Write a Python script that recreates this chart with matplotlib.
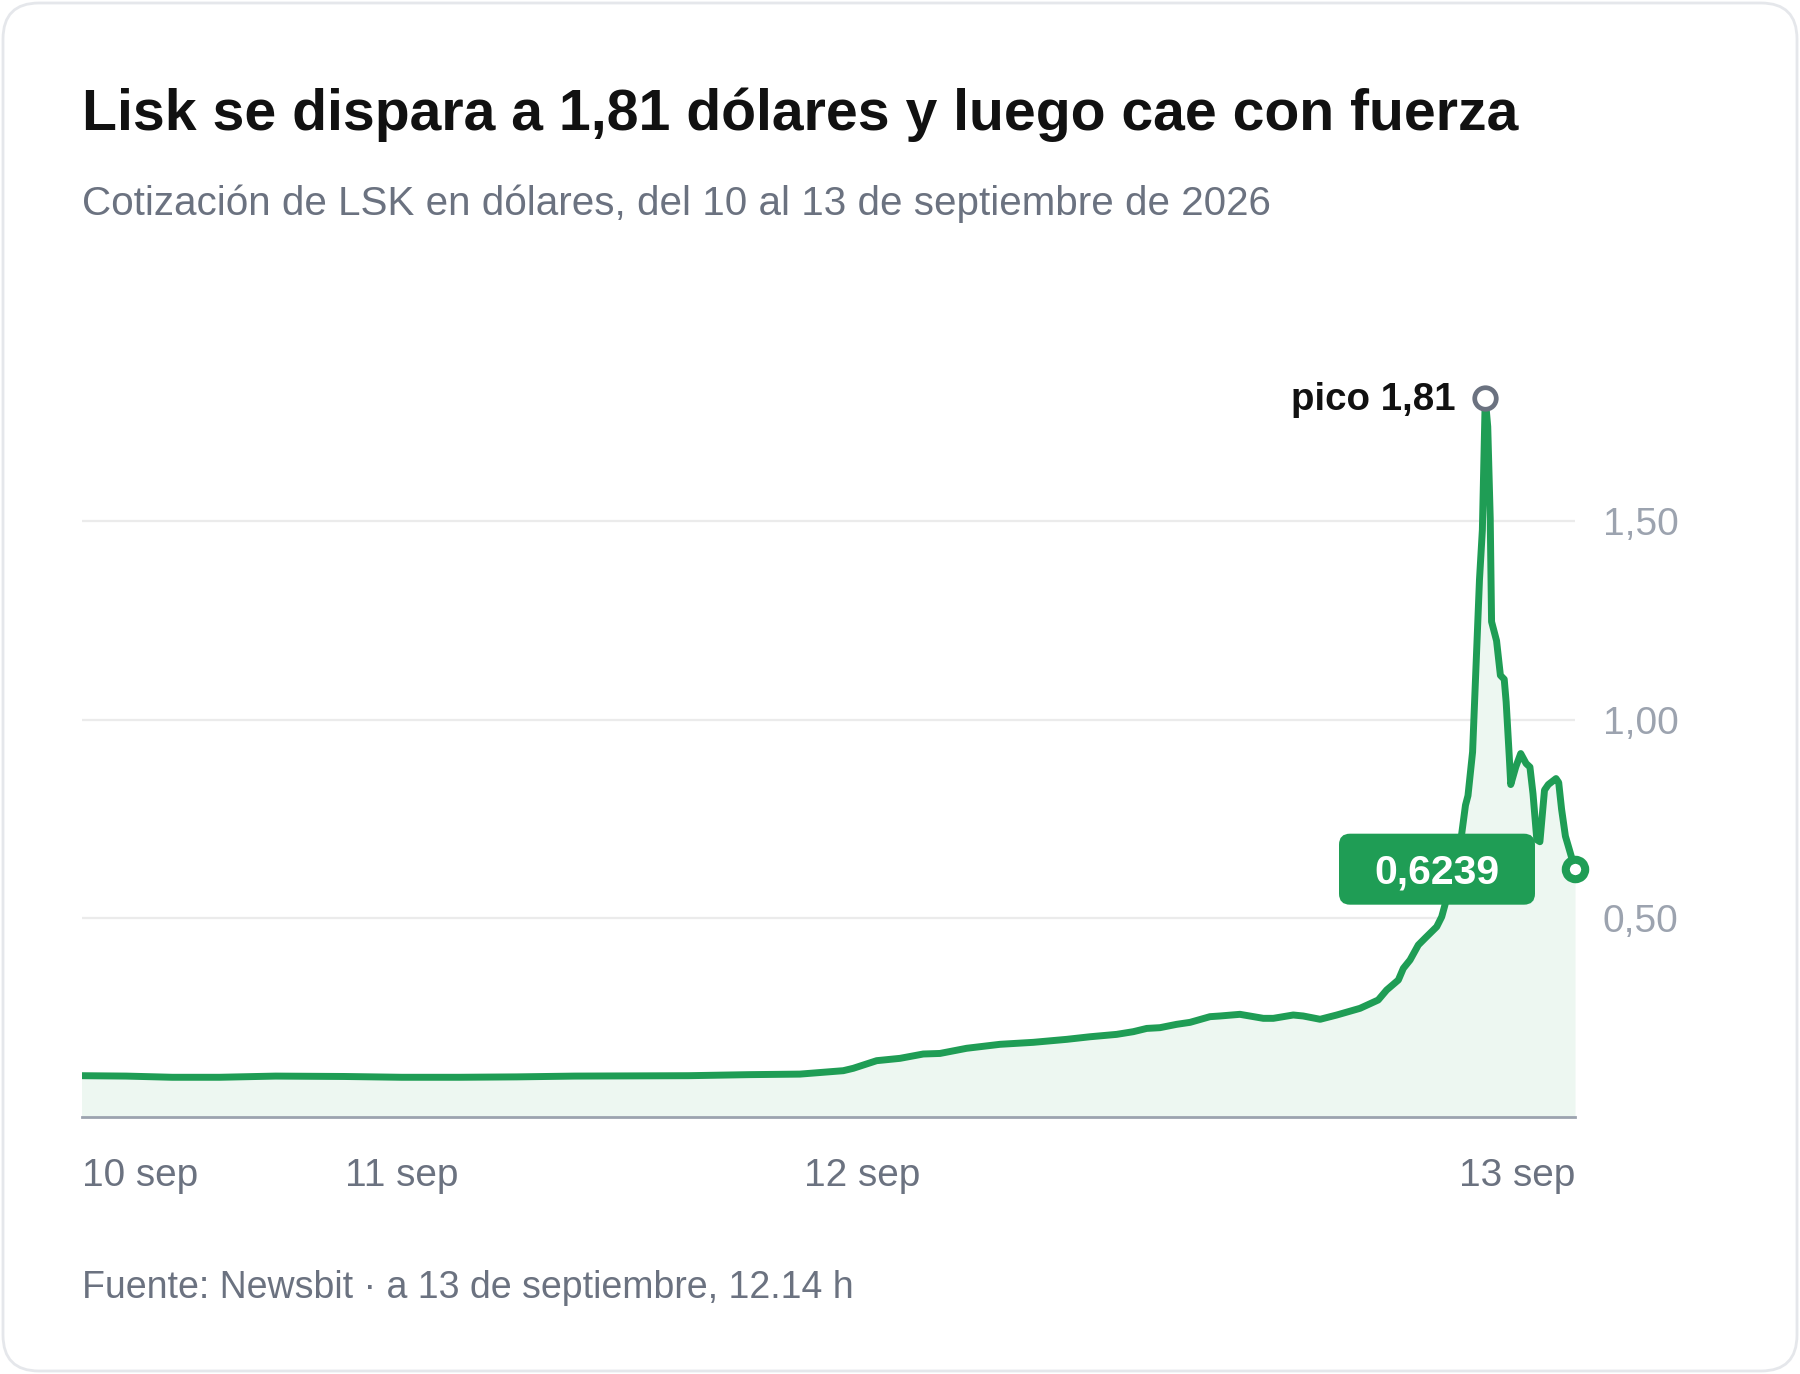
import matplotlib.pyplot as plt
from matplotlib.patches import FancyBboxPatch
from matplotlib.transforms import IdentityTransform

plt.rcParams['font.family'] = ['Liberation Sans', 'DejaVu Sans']

W, H = 1800, 1374
GREEN = '#1f9d55'
GREY_TXT = '#6b7280'

# hours counted from 10 sep 00:00, LSK price in USD
hours = [7.30, 9.63, 12.03, 14.5, 17.42, 21.0, 24.0, 26.99, 30.0, 33.0,
         38.96, 42.08, 44.76, 47.02, 47.54, 48.76, 49.98, 51.19, 52.06, 53.45,
         55.19, 56.93, 58.67, 59.88, 61.27, 62.14, 62.84, 63.53, 64.40, 65.10,
         66.14, 66.66, 67.70, 68.92, 69.44, 70.48, 71.00, 71.88, 72.75, 73.96,
         74.91, 75.35, 75.96, 76.22, 76.57, 77.00, 77.35, 77.96, 78.22, 78.39,
         78.77, 79.26, 79.46, 79.59, 79.83, 79.95, 80.03, 80.19, 80.34, 80.49,
         80.62, 80.75, 80.82, 81.08, 81.28, 81.48, 81.58, 81.74, 81.82, 82.08,
         82.34, 82.62, 82.82, 82.98, 83.18, 83.34, 83.58, 83.78, 84.18, 84.32,
         84.47, 84.67, 84.87, 85.17]
price = [0.104, 0.103, 0.100, 0.100, 0.103, 0.102, 0.100, 0.100, 0.101, 0.103,
         0.104, 0.1066, 0.108, 0.1166, 0.1226, 0.1418, 0.1477, 0.1586, 0.160, 0.173,
         0.183, 0.188, 0.1955, 0.202, 0.208, 0.2148, 0.223, 0.2249, 0.2333, 0.2383,
         0.2526, 0.2543, 0.2585, 0.2484, 0.2484, 0.2568, 0.2543, 0.246, 0.2568, 0.2736,
         0.2946, 0.3197, 0.3449, 0.3743, 0.3953, 0.433, 0.450, 0.479, 0.504, 0.534,
         0.616, 0.712, 0.785, 0.809, 0.919, 1.064, 1.160, 1.353, 1.478, 1.81,
         1.738, 1.507, 1.247, 1.199, 1.112, 1.102, 1.045, 0.910, 0.837, 0.881,
         0.915, 0.890, 0.881, 0.814, 0.698, 0.693, 0.823, 0.837, 0.852, 0.842,
         0.775, 0.707, 0.674, 0.6239]

x_ticks = [hours[0], 24, 48, hours[-1]]
x_labels = ['10 sep', '11 sep', '12 sep', '13 sep']
y_ticks = [0.5, 1.0, 1.5]
y_labels = ['0,50', '1,00', '1,50']

fig = plt.figure(figsize=(W / 100, H / 100), dpi=100)

# card background with rounded border
bg = fig.add_axes([0, 0, 1, 1], zorder=-1)
bg.set_xlim(0, W)
bg.set_ylim(0, H)
bg.axis('off')
bg.add_patch(FancyBboxPatch((3, 3), W - 6, H - 6, boxstyle='round,pad=0,rounding_size=36',
                            fc='white', ec='#e5e7eb', lw=2))

ax = fig.add_axes([81.5 / W, 257 / H, (1575 - 81.5) / W, 794.4 / H])
ax.set_xlim(hours[0], hours[-1])
ax.set_ylim(0, 2.0)
ax.patch.set_alpha(0)

ax.fill_between(hours, price, 0, color='#edf7f1', lw=0, zorder=1)
ax.plot(hours, price, color=GREEN, lw=5, solid_joinstyle='round', solid_capstyle='round', zorder=3)

for s in ['top', 'right', 'left']:
    ax.spines[s].set_visible(False)
ax.spines['bottom'].set_color('#9ca3af')
ax.spines['bottom'].set_linewidth(2)
ax.spines['bottom'].set_zorder(4)

ax.set_yticks(y_ticks)
ax.set_yticklabels(y_labels)
ax.yaxis.tick_right()
ax.tick_params(axis='y', length=0, pad=20, labelsize=28, labelcolor='#9ca3af')
ax.grid(axis='y', color='#ebebeb', lw=1.6, zorder=0)
ax.set_axisbelow(True)

ax.set_xticks(x_ticks)
ax.set_xticklabels(x_labels)
ax.tick_params(axis='x', length=0, pad=29.5, labelsize=27.9, labelcolor=GREY_TXT)
xt = ax.get_xticklabels()
xt[0].set_ha('left')
xt[-1].set_ha('right')

# peak marker and label
pk = price.index(max(price))
ax.plot(hours[pk], price[pk], 'o', ms=15.5, mfc='white', mec=GREY_TXT, mew=3.4, zorder=5, clip_on=False)
ax.annotate('pico 1,81', (hours[pk], price[pk]), xytext=(-30, -12), textcoords='offset pixels',
            ha='right', va='baseline', fontsize=27.7, fontweight='bold', color='#111111')

# last value marker and badge
ax.plot(hours[-1], price[-1], 'o', ms=14, mfc='white', mec=GREEN, mew=5.8, zorder=6, clip_on=False)
ex, ey = ax.transData.transform((hours[-1], price[-1]))
bw, bh = 196, 71
bx = ex - 40 - bw
badge = FancyBboxPatch((bx, ey - bh / 2), bw, bh, boxstyle='round,pad=0,rounding_size=11',
                       fc=GREEN, ec='none', transform=IdentityTransform(), zorder=7, clip_on=False)
ax.add_patch(badge)
ax.text(bx + bw / 2, ey - 14.5, f'{price[-1]:.4f}'.replace('.', ','), transform=IdentityTransform(),
        ha='center', va='baseline', fontsize=29.5, fontweight='bold', color='white', zorder=8)

# titles and footer
fig.text(81.5 / W, 1 - 129.7 / H, 'Lisk se dispara a 1,81 dólares y luego cae con fuerza',
         fontsize=41.1, fontweight='bold', color='#111111', va='baseline')
fig.text(81.5 / W, 1 - 214.7 / H, 'Cotización de LSK en dólares, del 10 al 13 de septiembre de 2026',
         fontsize=29.1, color=GREY_TXT, va='baseline')
fig.text(81.5 / W, 1 - 1298 / H, 'Fuente: Newsbit · a 13 de septiembre, 12.14 h',
         fontsize=27, color=GREY_TXT, va='baseline')

fig.savefig('out.png', dpi=100)
